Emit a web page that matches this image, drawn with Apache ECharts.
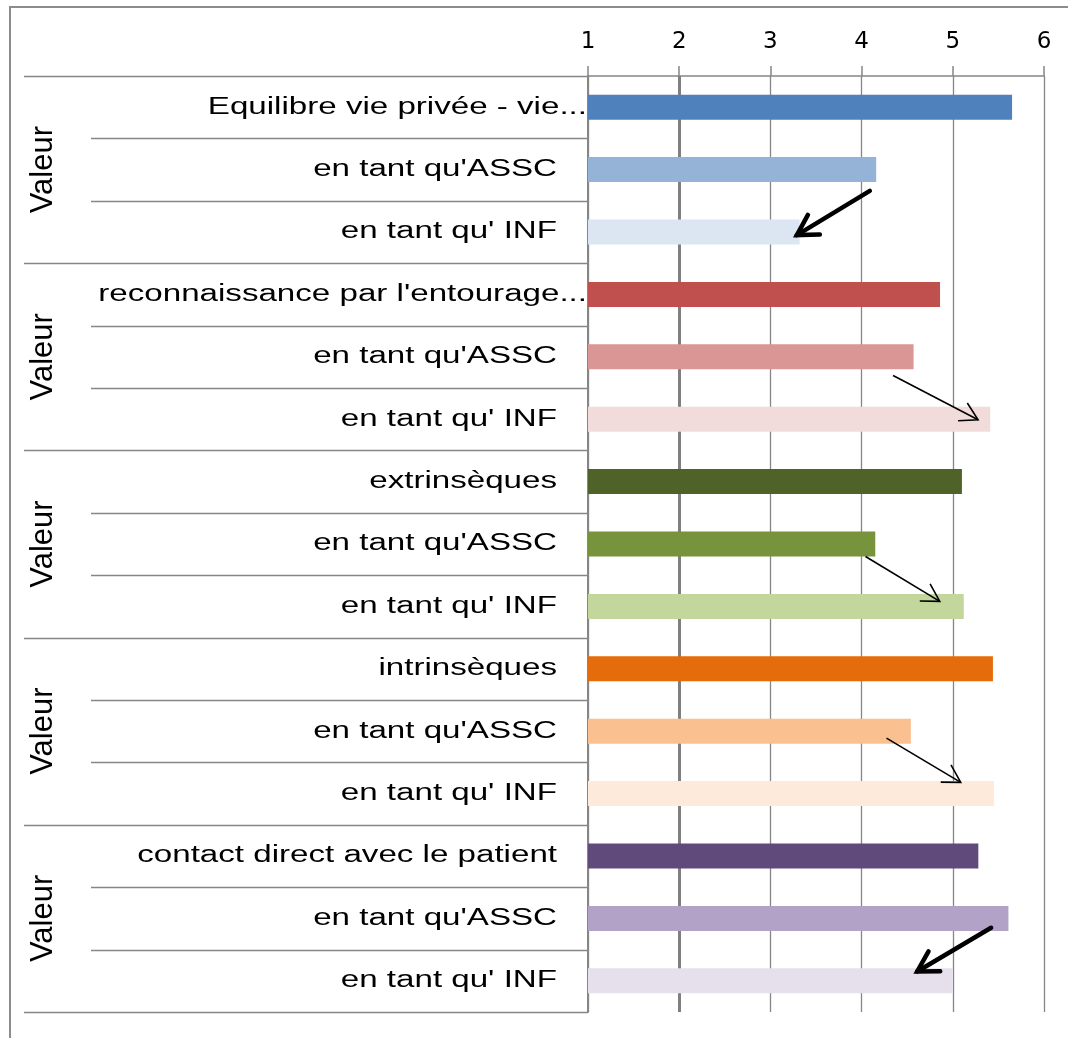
<!DOCTYPE html>
<html>
<head>
<meta charset="utf-8">
<script src="https://cdn.jsdelivr.net/npm/echarts@6/dist/echarts.min.js"></script>
<style>
html,body{margin:0;padding:0;background:#fff;}
#chart{width:1068px;height:1038px;}
</style>
</head>
<body>
<div id="chart"></div>
<script>
// ---- data ----
const categories = [
  "Equilibre vie privée - vie...", "en tant qu'ASSC", "en tant qu' INF",
  "reconnaissance par l'entourage...", "en tant qu'ASSC", "en tant qu' INF",
  "extrinsèques", "en tant qu'ASSC", "en tant qu' INF",
  "intrinsèques", "en tant qu'ASSC", "en tant qu' INF",
  "contact direct avec le patient", "en tant qu'ASSC", "en tant qu' INF"
];
const values = [5.65, 4.16, 3.32, 4.86, 4.57, 5.41, 5.10, 4.15, 5.12, 5.44, 4.54, 5.45, 5.28, 5.61, 5.00];
const groupLabels = ["Valeur", "Valeur", "Valeur", "Valeur", "Valeur"];
const groupSize = 3;
const xMin = 1, xMax = 6, xStep = 1;
const refValue = 2;
// arrows: [fromValue, fromRow, toValue, toRow]
const arrows = [
  [4.09, 1.34, 3.29, 2.05],
  [4.345, 4.30, 5.277, 5.01],
  [4.043, 7.20, 4.857, 7.92],
  [4.273, 10.11, 5.087, 10.82],
  [5.42, 13.15, 4.61, 13.85]
];
const arrowKinds = ['thick', 'thin', 'thin', 'thin', 'thick'];

// ---- styles ----
const barColors = ['#4F81BD', '#95B3D7', '#DCE6F2', '#C0504D', '#DA9694', '#F2DCDB',
  '#4F6228', '#77933C', '#C3D69B', '#E46C0A', '#FAC090', '#FDEADA',
  '#604A7B', '#B3A2C7', '#E6E0EC'];
const gridColor = '#868686';
const GRID = {left: 588, right: 24, top: 76, bottom: 26};

const chart = echarts.init(document.getElementById('chart'), null, {renderer: 'canvas'});

function renderArrow(params, api) {
  const p1 = api.coord([api.value(0), api.value(1)]);
  const p2 = api.coord([api.value(2), api.value(3)]);
  const thick = arrowKinds[params.dataIndex] === 'thick';
  const w = thick ? 4.5 : 1.6;
  const L = thick ? 23 : 20;
  const ang = Math.atan2(p1[1] - p2[1], p1[0] - p2[0]);
  const a1 = ang + Math.PI / 6, a2 = ang - Math.PI / 6;
  const h1 = [p2[0] + L * Math.cos(a1), p2[1] + L * Math.sin(a1)];
  const h2 = [p2[0] + L * Math.cos(a2), p2[1] + L * Math.sin(a2)];
  return {
    type: 'group',
    children: [
      {type: 'line', shape: {x1: p1[0], y1: p1[1], x2: p2[0], y2: p2[1]},
        style: {stroke: '#000', lineWidth: w, lineCap: thick ? 'round' : 'butt'}},
      {type: 'polyline', shape: {points: [h1, p2, h2]},
        style: {stroke: '#000', fill: null, lineWidth: w, lineJoin: 'miter', lineCap: thick ? 'round' : 'butt'}}
    ]
  };
}

chart.setOption({
  animation: false,
  backgroundColor: '#fff',
  grid: {left: GRID.left, right: GRID.right, top: GRID.top, bottom: GRID.bottom, containLabel: false},
  xAxis: {
    type: 'value', position: 'top', min: xMin, max: xMax, interval: xStep,
    axisLine: {show: true, onZero: false, lineStyle: {color: gridColor, width: 1.5}},
    axisTick: {show: true, length: 10, lineStyle: {color: gridColor, width: 1.5}},
    axisLabel: {fontFamily: 'DejaVu Sans', fontSize: 23, color: '#000', margin: 22},
    splitLine: {show: true, lineStyle: {color: gridColor, width: 1.3}}
  },
  yAxis: [
    {
      type: 'category', inverse: true, data: categories,
      axisLine: {show: true, onZero: false, lineStyle: {color: gridColor, width: 2}},
      axisTick: {show: false}, axisLabel: {show: false}, splitLine: {show: false}
    },
    {
      type: 'value', min: -0.5, max: categories.length - 0.5, inverse: true, show: false
    }
  ],
  series: [
    {
      type: 'bar', yAxisIndex: 0, barWidth: 25, clip: true, z: 3,
      data: values.map((v, i) => ({value: v, itemStyle: {color: barColors[i]}})),
      markLine: {
        silent: true, symbol: 'none', label: {show: false}, z: 1,
        lineStyle: {color: '#7f7f7f', width: 3, type: 'solid'},
        data: [{xAxis: refValue}]
      }
    },
    {
      type: 'custom', xAxisIndex: 0, yAxisIndex: 1, silent: true, z: 10,
      encode: {x: [0, 2], y: [1, 3]},
      renderItem: renderArrow,
      data: arrows
    }
  ]
});

// ---- left-side table: labels, group labels, separators (positions from the axis scale) ----
const rowY = (r) => chart.convertToPixel({yAxisIndex: 1}, r);
const gfx = [];
gfx.push({type: 'rect', z: -10, shape: {x: 10, y: 7, width: 1200, height: 1200},
  style: {fill: null, stroke: '#8c8c8c', lineWidth: 2}});
for (let k = 0; k <= categories.length; k++) {
  const y = Math.round(rowY(k - 0.5)) + 0.5;
  const isGroup = k % groupSize === 0;
  gfx.push({type: 'line', z: 5,
    shape: {x1: isGroup ? 24 : 91, y1: y, x2: GRID.left, y2: y},
    style: {stroke: gridColor, lineWidth: 1.5}});
}
categories.forEach((t, i) => {
  const truncated = t.endsWith('...');
  gfx.push({type: 'text', z: 5,
    x: truncated ? GRID.left - 1 : GRID.left - 31, y: rowY(i), scaleX: 1.44, scaleY: 1,
    style: {text: t, fontFamily: 'Liberation Sans', fontSize: 23, fill: '#000',
      align: 'right', verticalAlign: 'middle'}});
});
groupLabels.forEach((g, gi) => {
  gfx.push({type: 'text', z: 5,
    x: 43, y: rowY(gi * groupSize + (groupSize - 1) / 2), rotation: Math.PI / 2,
    style: {text: g, fontFamily: 'Liberation Sans', fontSize: 31, fill: '#000',
      align: 'center', verticalAlign: 'middle'}});
});
chart.setOption({graphic: gfx});
</script>
</body>
</html>
